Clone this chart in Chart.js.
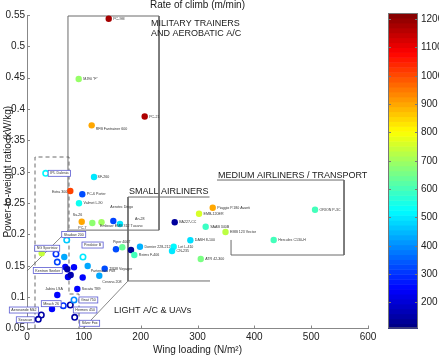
<!DOCTYPE html>
<html><head><meta charset="utf-8">
<script src="https://cdn.jsdelivr.net/npm/chart.js@4/dist/chart.umd.min.js"></script>
<style>html,body{margin:0;padding:0;background:#fff;overflow:hidden}canvas{display:block}</style>
</head><body>
<canvas id="c" width="439" height="358"></canvas>
<script>
// ---- data ----
const names = ['PC-9M','MJ90 "F"','PC-21','RFB Fantrainer 600','IPL Dalesia','SF-260','Extra 300','PC-6 Porter','Valmet L-90','Su-26',
 'PC-7','Embraer EMB 312 Tucano','Aerotec Dingo','An-28','BA227-CC','Piaggio P.180 Avanti','EMB-120ER','SAAB 340B','EMB 123 Vector','DASH 8-100',
 'Hercules C130-H','ORION P-3C','Let L-410','CN-235','ATR 42-300','Dornier 228-212','','Reims F-406','','Piper 400T',
 'Shadow 200','NG Sportstar','','Kentron Seeker','','Predator B','','','','',
 '','','Partenavia P68','Cessna 208','TR38 Voyager','Socata TB9','Jabiru LSA','','Mirach 26','Hermes 450',
 'Gnat 750','Silver Fox','Aerosonde Mk2','Seascan'];
const wingLoading = [143.8,91.0,207.1,113.8,32.9,117.9,76.2,97.3,91.5,96.3,
 114.9,131.1,151.9,163.6,259.9,326.8,302.7,314.4,349.3,287.4,
 434.1,506.8,258.1,255.2,305.7,198.8,183.0,188.8,167.7,156.5,
 69.9,25.9,51.0,53.3,65.6,98.5,67.4,70.9,72.1,76.9,
 82.7,98.0,106.8,127.2,136.7,88.5,53.3,44.0,63.9,76.2,
 82.7,83.9,25.2,19.9];
const powerRatio = [0.544,0.448,0.388,0.374,0.2975,0.2916,0.2693,0.264,0.2497,0.2203,
 0.2183,0.2194,0.2215,0.2167,0.2194,0.2427,0.2331,0.2124,0.2039,0.1907,
 0.1911,0.2395,0.1805,0.1736,0.1608,0.1805,0.1752,0.1672,0.1795,0.1763,
 0.1911,0.170,0.1688,0.156,0.164,0.164,0.1481,0.1444,0.1321,0.1353,
 0.1476,0.1313,0.1497,0.1342,0.1454,0.113,0.1034,0.0811,0.0864,0.0875,
 0.0955,0.0679,0.0715,0.0647];
const climbRate = [1180,690,1170,900,520,500,1010,330,540,900,
 680,700,320,500,140,900,760,590,730,490,
 600,600,520,500,660,440,130,600,640,330,
 470,740,300,320,430,500,250,150,230,160,
 250,250,430,430,330,250,250,250,300,150,
 400,150,150,150];
const isUAV = [0,0,0,0,1,0,0,0,0,0, 0,0,0,0,0,0,0,0,0,0, 0,0,0,0,0,0,0,0,0,0,
 1,0,1,1,0,1,0,0,0,0, 0,0,0,0,0,0,0,0,1,1, 1,1,1,1];
const xTicks = [0,100,200,300,400,500,600];
const yTicks = [0.05,0.1,0.15,0.2,0.25,0.3,0.35,0.4,0.45,0.5,0.55];
const cbTicks = [200,300,400,500,600,700,800,900,1000,1100,1200];
const cbRange = [108,1221];

// region outlines (data units)
const militaryBox = [[72.1,0.2069],[72.1,0.5484],[232.3,0.5484],[232.3,0.2069],[72.1,0.2069]];
const smallAirliners = [[321.1,0.2597],[177.7,0.2597],[177.7,0.1258],[322,0.1258]];
const mediumAirliners = [[334.3,0.2868],[557.8,0.2868],[557.8,0.1672],[359,0.1672],[359,0.1912]];
const lightDiag1 = [[0,0.1417],[72.1,0.2069]];
const lightDiag2 = [[98.5,0.05],[177.7,0.1258]];
const uavDashed = [[14.1,0.05],[14.1,0.3235],[73.9,0.3235],[73.9,0.105],[91.5,0.105],[91.5,0.05]];
const regionTexts = [
 ['MILITARY TRAINERS',218.2,0.5364],['AND AEROBATIC A/C',218.2,0.5205],
 ['SMALL AIRLINERS',179.5,0.2685],['MEDIUM AIRLINERS / TRANSPORT',336.1,0.2932],
 ['LIGHT A/C & UAVs',153.1,0.0779]];

// label placement (px offsets from marker), default right of marker
const labelPlace = {3:[4,4],5:[3.5,0],6:[-3,1.5,'right'],9:[-9,-6.5],10:[-14,5],11:[-1.5,4],12:[-3,-14],13:[15,-5],
 29:[-3,-7.5],30:[-3,-5.5],31:[-5,-5],33:[-22,8.5],35:[1,-12],42:[3,5],43:[3,6],46:[-12,-6.5],48:[-20,-2,'left'],
 49:[5,5],50:[7,0],51:[7,6],52:[-30,-5],53:[-20,0.5]};
const boxedLabels = [4,30,31,33,35,48,49,50,51,52,53];

const FONT = "'Liberation Sans', Arial, sans-serif";
function jet(v){
  const t = Math.max(0,Math.min(1,(v-cbRange[0])/(cbRange[1]-cbRange[0])));
  const c = x => Math.round(255*Math.max(0,Math.min(1,x)));
  return `rgb(${c(1.5-Math.abs(4*t-3))},${c(1.5-Math.abs(4*t-2))},${c(1.5-Math.abs(4*t-1))})`;
}
const toXY = a => a.map(p=>({x:p[0],y:p[1]}));
const lineDs = (arr,dash,w) => ({data:toXY(arr),showLine:true,pointRadius:0,borderColor:'#6a6a6a',borderWidth:w||1,borderDash:dash||[],fill:false,order:5,clip:false});

const overlay = {
  id:'overlay',
  afterDatasetsDraw(chart){
    const ctx = chart.ctx, xs = chart.scales.x, ys = chart.scales.y, ca = chart.chartArea;
    ctx.save();
    ctx.strokeStyle = '#888'; ctx.lineWidth = 1;
    xTicks.forEach(v=>{const px=Math.round(xs.getPixelForValue(v))+0.5; ctx.beginPath(); ctx.moveTo(px,ca.bottom); ctx.lineTo(px,ca.bottom-3); ctx.stroke();});
    yTicks.forEach(v=>{const py=Math.round(ys.getPixelForValue(v))+0.5; ctx.beginPath(); ctx.moveTo(ca.left,py); ctx.lineTo(ca.left+3,py); ctx.stroke();});
    const meta = chart.getDatasetMeta(0);
    ctx.font = '3.6px ' + FONT; ctx.textBaseline = 'middle';
    names.forEach((n,i)=>{
      if(!n) return;
      const el = meta.data[i];
      const pl = labelPlace[i] || [4.5,0];
      ctx.textAlign = pl[2] || 'left';
      const tx = el.x + pl[0], ty = el.y + pl[1];
      if(boxedLabels.includes(i)){
        const w = ctx.measureText(n).width;
        const bx = ctx.textAlign==='right' ? tx-w : tx;
        ctx.fillStyle='#fff'; ctx.fillRect(bx-2,ty-3,w+4,6);
        ctx.strokeStyle='#5a5ad2'; ctx.lineWidth=0.8; ctx.strokeRect(bx-2,ty-3,w+4,6);
      }
      ctx.fillStyle = '#333';
      ctx.fillText(n,tx,ty);
    });
    ctx.font = '9px ' + FONT; ctx.fillStyle = '#1a1a1a'; ctx.textAlign='left'; ctx.textBaseline='middle';
    regionTexts.forEach(r=>ctx.fillText(r[0], xs.getPixelForValue(r[1]), ys.getPixelForValue(r[2])));
    const cbL = ca.right + 20, cbR = ca.right + 50, cbT = ca.top - 2, cbB = ca.bottom;
    const cy = v => cbB - (v-cbRange[0])/(cbRange[1]-cbRange[0])*(cbB-cbT);
    const n = 64;
    for(let k=0;k<n;k++){
      const v0 = cbRange[0] + (cbRange[1]-cbRange[0])*k/n, v1 = cbRange[0] + (cbRange[1]-cbRange[0])*(k+1)/n;
      ctx.fillStyle = jet((v0+v1)/2);
      ctx.fillRect(cbL, cy(v1), cbR-cbL, cy(v0)-cy(v1)+0.5);
    }
    ctx.strokeStyle='#777'; ctx.lineWidth=1; ctx.strokeRect(cbL+0.5,cbT+0.5,cbR-cbL-1,cbB-cbT-1);
    ctx.fillStyle='#222'; ctx.font='10px '+FONT; ctx.textAlign='left'; ctx.textBaseline='middle';
    cbTicks.forEach(v=>{
      const py = Math.round(cy(v))+0.5;
      ctx.beginPath(); ctx.moveTo(cbR-3,py); ctx.lineTo(cbR,py); ctx.moveTo(cbL,py); ctx.lineTo(cbL+3,py); ctx.stroke();
      ctx.fillText(String(v), cbR+3, py);
    });
    ctx.textAlign='center'; ctx.font='10px '+FONT; ctx.fillStyle='#1a1a1a';
    ctx.fillText('Rate of climb (m/min)', (ca.left+ca.right)/2, 5);
    ctx.restore();
  }
};

new Chart(document.getElementById('c'), {
  type:'scatter',
  data:{datasets:[
    {data:names.map((n,i)=>({x:wingLoading[i],y:powerRatio[i]})), order:0, clip:false,
     pointRadius: c=>isUAV[c.dataIndex]?2.7:3.2,
     pointBackgroundColor: c=>isUAV[c.dataIndex]?'#ffffff':jet(climbRate[c.dataIndex]),
     pointBorderColor: c=>jet(climbRate[c.dataIndex]),
     pointBorderWidth: c=>isUAV[c.dataIndex]?1.6:0},
    lineDs(militaryBox), lineDs(smallAirliners), lineDs(mediumAirliners),
    lineDs(lightDiag1,[],0.8), lineDs(lightDiag2,[],0.8), lineDs(uavDashed,[4,3])
  ]},
  options:{
    responsive:false, devicePixelRatio:1, animation:false,
    layout:{padding:{top:15,right:71,left:0,bottom:0},autoPadding:false},
    plugins:{legend:{display:false},tooltip:{enabled:false}},
    scales:{
      x:{type:'linear',min:0,max:600,
        afterFit(a){a.height=29.5;},
        afterBuildTicks(a){a.ticks=xTicks.map(v=>({value:v}));},
        ticks:{font:{size:10,family:FONT},color:'#222',padding:3,maxRotation:0,autoSkip:false},
        grid:{display:false,drawTicks:false},border:{color:'#888',width:1},
        title:{display:true,text:'Wing loading (N/m²)',font:{size:10,family:FONT},color:'#1a1a1a',padding:{top:0,bottom:2}}},
      y:{type:'linear',min:0.05,max:0.55,
        afterFit(a){a.width=27;},
        afterBuildTicks(a){a.ticks=yTicks.map(v=>({value:v}));},
        ticks:{font:{size:10,family:FONT},color:'#222',padding:2,autoSkip:false,callback:v=>String(+v.toFixed(2))},
        grid:{display:false,drawTicks:false},border:{color:'#888',width:1},
        title:{display:true,text:'Power-to-weight ratio (kW/kg)',font:{size:10,family:FONT},color:'#1a1a1a',padding:{top:2,bottom:0}}}
    }
  },
  plugins:[overlay]
});
</script>
</body></html>
